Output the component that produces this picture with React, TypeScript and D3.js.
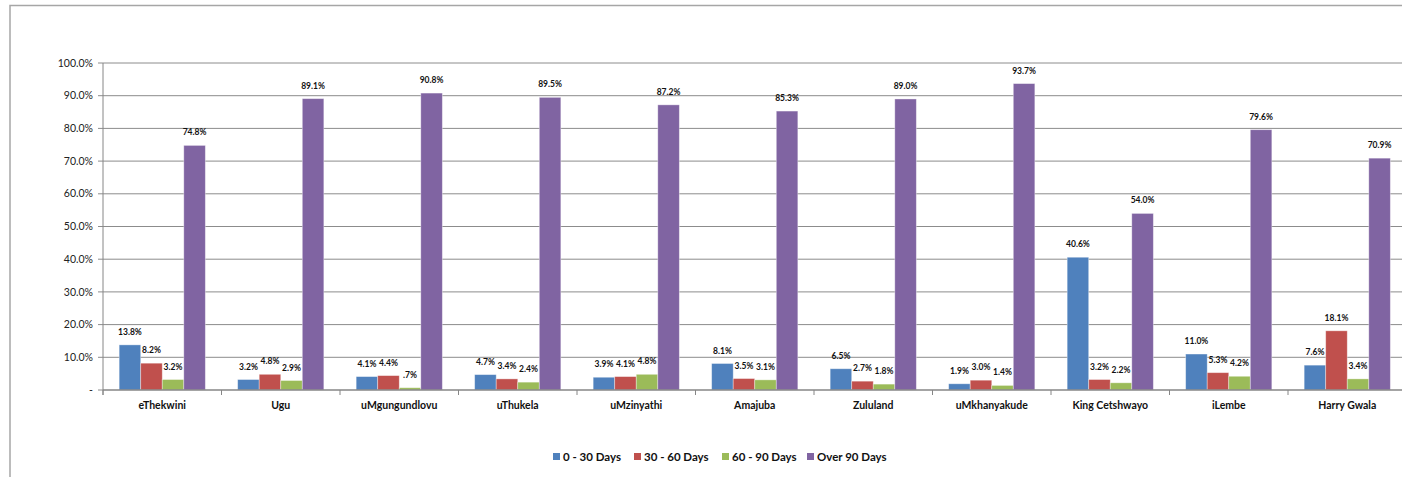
import React, { useEffect } from 'react';
import * as d3 from 'd3';

const districts = [
  'eThekwini', 'Ugu', 'uMgungundlovu', 'uThukela', 'uMzinyathi', 'Amajuba',
  'Zululand', 'uMkhanyakude', 'King Cetshwayo', 'iLembe', 'Harry Gwala',
];
const seriesNames = ['0 - 30 Days', '30 - 60 Days', '60 - 90 Days', 'Over 90 Days'];
const days0to30 = [13.8, 3.2, 4.1, 4.7, 3.9, 8.1, 6.5, 1.9, 40.6, 11.0, 7.6];
const days30to60 = [8.2, 4.8, 4.4, 3.4, 4.1, 3.5, 2.7, 3.0, 3.2, 5.3, 18.1];
const days60to90 = [3.2, 2.9, 0.7, 2.4, 4.8, 3.1, 1.8, 1.4, 2.2, 4.2, 3.4];
const over90 = [74.8, 89.1, 90.8, 89.5, 87.2, 85.3, 89.0, 93.7, 54.0, 79.6, 70.9];
const yTicks = [0, 10, 20, 30, 40, 50, 60, 70, 80, 90, 100];
const colors = ['#4F81BD', '#C0504D', '#9BBB59', '#8064A2'];

const allSeries = [days0to30, days30to60, days60to90, over90];

const W = 1402;
const H = 477;
const font = 'Lato, "Open Sans", sans-serif';

// Excel style "#.#%" : drop the leading zero under 1
const fmtLabel = (v: number) => d3.format('.1f')(v).replace(/^0\./, '.') + '%';
const fmtTick = (v: number) => (v === 0 ? '-' : d3.format('.1f')(v) + '%');

const App: React.FC = () => {
  useEffect(() => {
    document.body.style.margin = '0';
    document.body.style.overflow = 'hidden';
  }, []);

  const x0 = d3.scaleBand<string>().domain(districts).range([103, 1406.5]).padding(0);
  const x1 = d3.scaleBand<string>()
    .domain(seriesNames)
    .range([0, x0.bandwidth()])
    .paddingInner(0)
    .paddingOuter(0.75);
  const y = d3.scaleLinear().domain([0, 100]).range([390, 63]);

  const legendX = d3.scaleOrdinal<string, number>().domain(seriesNames).range([553, 634, 722, 807]);

  return (
    <svg width={W} height={H} style={{ display: 'block', background: '#fff' }}>
      {/* chart frame */}
      <path d={`M10,${H} V5.5 H${W}`} fill="none" stroke="#A6A6A6" strokeWidth={1.5} />

      {/* gridlines + y ticks */}
      {yTicks.map(t => (
        <g key={t}>
          {t > 0 && (
            <line x1={103} x2={W} y1={y(t)} y2={y(t)} stroke="#8C8C8C" strokeWidth={1} />
          )}
          <line x1={98} x2={103} y1={y(t)} y2={y(t)} stroke="#8C8C8C" />
          <text x={93} y={y(t)} dy="0.35em" textAnchor="end" fontFamily={font} fontSize={10.5} fill="#222">
            {fmtTick(t)}
          </text>
        </g>
      ))}

      {/* bars */}
      {districts.map((d, i) => (
        <g key={d} transform={`translate(${x0(d)},0)`}>
          {allSeries.map((vals, s) => (
            <rect
              key={s}
              x={x1(seriesNames[s])}
              y={y(vals[i])}
              width={x1.bandwidth()}
              height={y(0) - y(vals[i])}
              fill={colors[s]}
              stroke="#ffffff"
              strokeOpacity={0.45}
              strokeWidth={0.8}
            />
          ))}
          {allSeries.map((vals, s) => (
            <text
              key={'l' + s}
              x={(x1(seriesNames[s]) as number) + x1.bandwidth() / 2}
              y={y(vals[i]) - 10}
              textAnchor="middle"
              fontFamily={font}
              fontWeight="bold"
              fontSize={8.5}
              fill="#111"
            >
              {fmtLabel(vals[i])}
            </text>
          ))}
        </g>
      ))}

      {/* axes */}
      <line x1={103} x2={103} y1={y(100)} y2={y(0) + 5} stroke="#868686" />
      <line x1={103} x2={W} y1={y(0)} y2={y(0)} stroke="#868686" strokeWidth={1.5} />
      {districts.map(d => (
        <line key={'t' + d} x1={x0(d)} x2={x0(d)} y1={y(0)} y2={y(0) + 5} stroke="#868686" />
      ))}
      {districts.map(d => (
        <text
          key={'c' + d}
          x={(x0(d) as number) + x0.bandwidth() / 2}
          y={405}
          dy="0.35em"
          textAnchor="middle"
          fontFamily={font}
          fontWeight="bold"
          fontSize={10.5}
          fill="#111"
        >
          {d}
        </text>
      ))}

      {/* legend */}
      {seriesNames.map((s, i) => (
        <g key={s} transform={`translate(${legendX(s)},457)`}>
          <rect x={0} y={-4} width={7} height={7} fill={colors[i]} />
          <text x={10} y={0} dy="0.35em" fontFamily={font} fontWeight="bold" fontSize={11.5} fill="#111">
            {s}
          </text>
        </g>
      ))}
    </svg>
  );
};

export default App;
